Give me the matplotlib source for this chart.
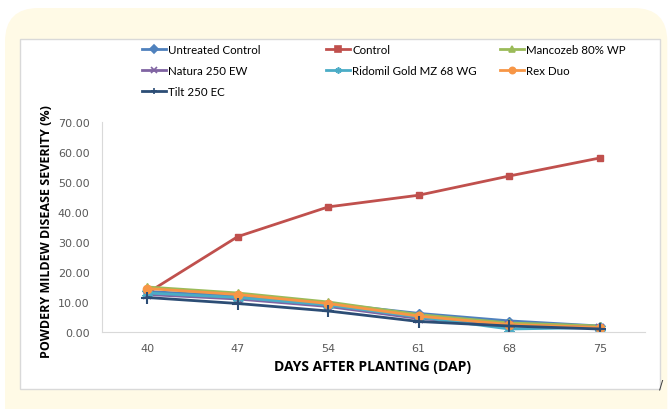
import matplotlib.pyplot as plt
from matplotlib.patches import FancyBboxPatch, Rectangle
from matplotlib.lines import Line2D

# disease severity (%) per treatment at each sampling date
days = ["40", "47", "54", "61", "68", "75"]
untreated = [13.5, 12.0, 9.5, 6.2, 3.7, 2.0]
control = [13.0, 31.8, 41.7, 45.6, 52.0, 58.0]
mancozeb = [15.0, 13.0, 10.0, 5.8, 3.0, 2.0]
natura = [12.5, 11.0, 8.5, 4.5, 2.3, 1.5]
ridomil = [13.0, 11.5, 9.0, 5.0, 1.0, 1.5]
rex_duo = [14.5, 12.5, 9.5, 5.3, 2.5, 1.5]
tilt = [11.5, 9.5, 7.0, 3.5, 2.0, 1.0]

series = [
    ("Untreated Control", untreated, "#4F81BD", "D", 4),
    ("Control", control, "#C0504D", "s", 5),
    ("Mancozeb 80% WP", mancozeb, "#9BBB59", "^", 6),
    ("Natura 250 EW", natura, "#8064A2", "x", 6),
    ("Ridomil Gold MZ 68 WG", ridomil, "#4BACC6", (6, 2, 0), 8),
    ("Rex Duo", rex_duo, "#F79646", "o", 6),
    ("Tilt 250 EC", tilt, "#2C4D75", "+", 8),
]

W, H = 669, 410
fig = plt.figure(figsize=(W / 100, H / 100), dpi=100)
fig.patch.set_facecolor("white")

# cream rounded panel and white chart box
fig.patches.append(FancyBboxPatch((5 / W, -0.1), 0.99, (H - 9) / H + 0.1,
                                  boxstyle="round,pad=0,rounding_size=0.05",
                                  transform=fig.transFigure, fc="#FFFAE6", ec="none",
                                  mutation_aspect=W / H, zorder=0))
fig.patches.append(Rectangle((20 / W, (H - 390) / H), 640 / W, 350 / H,
                             transform=fig.transFigure, fc="white", ec="#D9D9D9",
                             lw=1.0, zorder=0.5))

ax = fig.add_axes([102 / W, (H - 333) / H, 543 / W, 210 / H])
ax.set_facecolor("none")
ax.set_zorder(2)

x = range(len(days))
handles = {}
for name, vals, color, marker, ms in series:
    mew = 1.5 if marker in ("x", "+", (6, 2, 0)) else 1
    (ln,) = ax.plot(x, vals, color=color, lw=2, marker=marker, ms=ms,
                    mew=mew, mfc=color, mec=color, label=name)
    handles[name] = ln

ax.set_xlim(-0.5, len(days) - 0.5)
ax.set_ylim(0, 70)
ax.set_yticks(range(0, 71, 10))
ax.set_yticklabels([f"{v:.2f}" for v in range(0, 71, 10)])
ax.set_xticks(list(x))
ax.set_xticklabels(days)
ax.tick_params(length=0, labelsize=8, colors="#595959")
ax.tick_params(axis="y", pad=9)
ax.tick_params(axis="x", pad=8)
for side in ("top", "right"):
    ax.spines[side].set_visible(False)
for side in ("left", "bottom"):
    ax.spines[side].set_color("#D9D9D9")

fig.text(47 / W, 1 - 232 / H, "POWDERY MILDEW DISEASE SEVERITY (%)", rotation=90,
         ha="center", va="center", fontsize=9, fontweight="bold", family="Open Sans")
fig.text(373 / W, 1 - 367 / H, "DAYS AFTER PLANTING (DAP)", ha="center", va="center",
         fontsize=10, fontweight="bold", family="Open Sans")

# legend laid out in three columns
columns = [
    (139, ["Untreated Control", "Natura 250 EW", "Tilt 250 EC"]),
    (323, ["Control", "Ridomil Gold MZ 68 WG"]),
    (497, ["Mancozeb 80% WP", "Rex Duo"]),
]
for xpos, names in columns:
    hs = [Line2D([], [], color=handles[n].get_color(), lw=2,
                 marker=handles[n].get_marker(), ms=4.5, mew=1.2,
                 mfc=handles[n].get_color(), mec=handles[n].get_color()) for n in names]
    fig.legend(hs, names, loc="upper left", bbox_to_anchor=(xpos / W, 1 - 42 / H),
               frameon=False, handlelength=2.0, handletextpad=0.25,
               labelspacing=0.85, borderpad=0.3, borderaxespad=0,
               prop={"family": "Lato", "size": 8.3})

fig.text(661 / W, 1 - 385 / H, "/", fontsize=9, color="#404040", ha="center", va="center")

fig.savefig("out.png", dpi=100)
